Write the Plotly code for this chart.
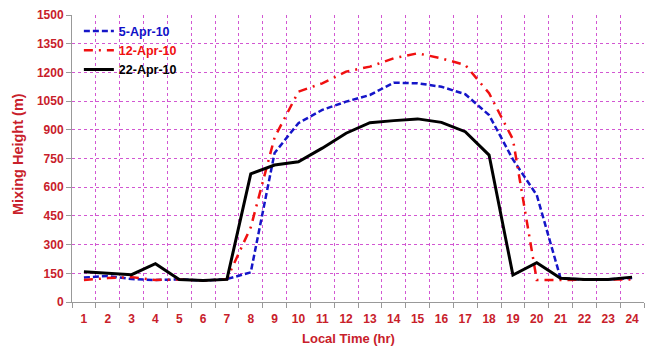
import plotly.graph_objects as go

hours = list(range(1, 25))
apr05 = [128, 136, 120, 115, 118, 112, 120, 155, 779, 935, 1004, 1047, 1082, 1146, 1143, 1125, 1086, 977, 745, 559, 124, 118, 118, 125]
apr12 = [115, 125, 130, 115, 118, 112, 120, 390, 860, 1099, 1143, 1204, 1230, 1274, 1300, 1273, 1239, 1091, 850, 115, 115, 115, 115, 118]
apr22 = [158, 152, 143, 200, 118, 112, 118, 670, 716, 733, 804, 882, 937, 948, 957, 939, 890, 768, 141, 205, 124, 118, 118, 130]
xticks = [str(h) for h in hours]
yticks = list(range(0, 1501, 150))

RED = "#C8202A"
GRID = "#D257D2"
FONT = "Liberation Sans, Arial, sans-serif"

fig = go.Figure()
fig.add_trace(go.Scatter(x=hours, y=apr05, mode="lines",
                         name='<span style="color:#1010C8">5-Apr-10</span>',
                         line=dict(color="#1515C8", width=2.5, dash="6px,3px")))
fig.add_trace(go.Scatter(x=hours, y=apr12, mode="lines",
                         name='<span style="color:#F01010">12-Apr-10</span>',
                         line=dict(color="#F01010", width=2.5, dash="9px,6px,2px,6px")))
fig.add_trace(go.Scatter(x=hours, y=apr22, mode="lines",
                         name='<span style="color:#000000">22-Apr-10</span>',
                         line=dict(color="#000000", width=3)))

fig.update_layout(
    width=645, height=348,
    margin=dict(l=72, r=1, t=15, b=46),
    paper_bgcolor="white", plot_bgcolor="white",
    font=dict(family=FONT, size=12, color=RED),
    showlegend=True,
    legend=dict(x=0.012, y=0.995, xanchor="left", yanchor="top",
                bgcolor="rgba(0,0,0,0)", font=dict(family=FONT, size=12.5, weight="bold"),
                tracegroupgap=0, itemwidth=30),
    xaxis=dict(range=[0.5, 24.5], tickmode="array", tickvals=hours, ticktext=xticks,
               showgrid=False, ticks="", zeroline=False,
               showline=True, linecolor="#999999", linewidth=1,
               ticklabelstandoff=6,
               tickfont=dict(family=FONT, size=12, color=RED, weight="bold"),
               minor=dict(tick0=0.5, dtick=1, showgrid=True, gridcolor=GRID, griddash="dot",
                          gridwidth=1, ticks="outside", ticklen=5, tickcolor="#999999")),
    yaxis=dict(range=[0, 1500], tickmode="array", tickvals=yticks,
               showgrid=True, gridcolor=GRID, griddash="dot", gridwidth=1,
               ticks="outside", ticklen=5, tickcolor="#999999", zeroline=False,
               showline=True, linecolor="#999999", linewidth=1,
               tickfont=dict(family=FONT, size=12, color=RED, weight="bold")),
    annotations=[
        dict(text="Local Time (hr)", xref="paper", yref="paper",
             x=(348 - 72) / 572, y=-(338 - 302) / 287, xanchor="center", yanchor="middle",
             showarrow=False, font=dict(family=FONT, size=13, color=RED, weight="bold")),
        dict(text="Mixing Height (m)", xref="paper", yref="paper",
             x=-(72 - 18) / 572, y=(302 - 154) / 287, xanchor="center", yanchor="middle",
             textangle=-90, showarrow=False,
             font=dict(family=FONT, size=14.5, color=RED, weight="bold")),
    ],
)

fig.write_html("out.html")
